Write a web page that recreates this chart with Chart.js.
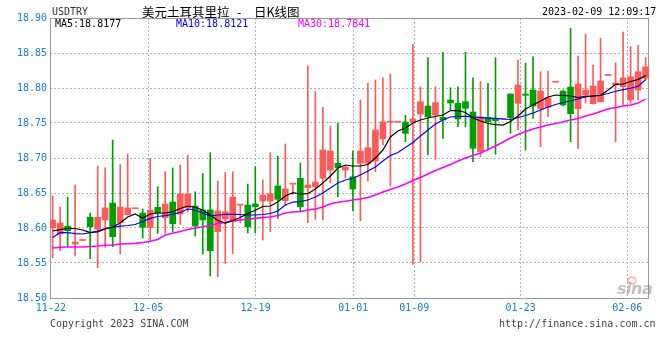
<!DOCTYPE html>
<html><head><meta charset="utf-8">
<script src="https://cdn.jsdelivr.net/npm/chart.js@4.4.1/dist/chart.umd.min.js"></script>
<style>
html,body{margin:0;padding:0;background:#fff;}
#wrap{position:relative;width:660px;height:360px;overflow:hidden;background:#fff;}
#c{position:absolute;left:0;top:0;}
.t{position:absolute;white-space:nowrap;font-family:"DejaVu Sans Mono",monospace;font-size:10px;line-height:12px;}
.cjk{position:absolute;white-space:nowrap;font-family:"Noto Sans CJK SC",sans-serif;font-size:12.5px;line-height:16px;color:#000;}
</style></head><body>
<div id="wrap">
<canvas id="c" width="660" height="360"></canvas>
<div class="t" style="left:52px;top:6px;color:#333">USDTRY</div>
<div class="cjk" style="left:142px;top:4px">美元土耳其里拉</div>
<div class="cjk" style="left:237px;top:4px">-</div>
<div class="cjk" style="left:254px;top:4px">日K线图</div>
<div class="t" style="left:542px;top:6px;color:#000">2023-02-09 12:09:17</div>
<div class="t" id="l5" style="left:55px;top:18px;color:#000"></div>
<div class="t" id="l10" style="left:176px;top:18px;color:#0000ff"></div>
<div class="t" id="l30" style="left:298px;top:18px;color:#ff00ff"></div>
<div class="t" style="left:50px;top:318px;color:#444">Copyright 2023 SINA.COM</div>
<div class="t" style="left:499px;top:318px;color:#444">http://finance.sina.com.cn</div>
<div style="position:absolute;left:627px;top:276px;width:6px;height:5px;border:2px solid rgba(240,120,120,0.45);border-radius:50%;"></div>
<div style="position:absolute;left:617px;top:280px;font-family:'DejaVu Sans',sans-serif;font-style:italic;font-weight:bold;font-size:16px;line-height:17px;letter-spacing:-0.5px;color:rgba(140,140,140,0.55);">sina</div>
</div>
<script>
const dateLabels = ['11-22','12-05','12-19','01-01','01-09','01-23','02-06'];
const dateTickPos = [-0.23, 12.74, 27.04, 40.05, 48.17, 62.35, 76.55];

const opens = [18.6004,18.5918,18.6028,18.5771,18.5822,18.6153,18.5981,18.6114,18.6357,18.6076,
18.6190,18.6276,18.6214,18.6004,18.6296,18.6147,18.6371,18.6200,18.6286,18.6314,
18.6257,18.6257,18.5947,18.6128,18.6090,18.6326,18.6328,18.6343,18.6386,18.6386,
18.6600,18.6390,18.6626,18.6710,18.6576,18.6590,18.6710,18.6828,18.6924,18.6828,
18.6733,18.6924,18.6924,18.6957,18.7276,18.7512,18.7512,18.7514,18.7518,18.7628,
18.7743,18.7614,18.7581,18.7828,18.7781,18.7804,18.7657,18.7090,18.7581,18.7567,
18.7554,18.7914,18.7781,18.7914,18.7971,18.7704,18.7724,18.8083,18.7957,18.8014,
18.7704,18.7900,18.7776,18.7804,18.8179,18.8043,18.8018,18.7828,18.7971,18.8138];
const highs = [18.6457,18.6300,18.6443,18.6614,18.5830,18.6214,18.6886,18.6861,18.7257,18.6904,
18.7057,18.6283,18.6271,18.6993,18.6590,18.6804,18.6857,18.6900,18.7043,18.6518,
18.6778,18.7076,18.6671,18.6793,18.6804,18.6330,18.6628,18.6876,18.6686,18.7076,
18.7028,18.7200,18.6630,18.6928,18.8314,18.7947,18.7724,18.7457,18.7496,18.6886,
18.7100,18.7828,18.8067,18.8114,18.8147,18.8200,18.7517,18.7610,18.8624,18.8018,
18.8433,18.8018,18.8510,18.8004,18.8018,18.8510,18.8147,18.8090,18.8067,18.8433,
18.7559,18.7916,18.8400,18.8353,18.8447,18.8233,18.8243,18.8087,18.7971,18.8853,
18.8457,18.8771,18.8328,18.8710,18.8183,18.8361,18.8800,18.8590,18.8614,18.8433];
const lows = [18.5576,18.5676,18.5733,18.5600,18.5820,18.5561,18.5433,18.5724,18.5733,18.5633,
18.6186,18.6274,18.5857,18.5800,18.5924,18.5924,18.5943,18.6050,18.6228,18.5886,
18.5628,18.5314,18.5304,18.5493,18.5636,18.6076,18.5928,18.5928,18.5828,18.5947,
18.6138,18.6328,18.6481,18.6228,18.6076,18.6124,18.6114,18.6643,18.6447,18.6714,
18.6247,18.6104,18.6671,18.6804,18.7186,18.6600,18.7511,18.7233,18.5481,18.5518,
18.7043,18.6981,18.7281,18.7686,18.7447,18.7447,18.6947,18.7018,18.7114,18.7053,
18.7553,18.7353,18.7400,18.7114,18.7567,18.7161,18.7590,18.8082,18.7743,18.7233,
18.7138,18.7786,18.7771,18.7800,18.8178,18.7233,18.7757,18.7781,18.7828,18.8114];
const closes = [18.6114,18.6071,18.5961,18.5800,18.5828,18.6018,18.6153,18.6286,18.5876,18.6300,
18.6286,18.6281,18.6010,18.6257,18.6214,18.6343,18.6061,18.6486,18.6486,18.6028,
18.6114,18.5676,18.6243,18.6233,18.6443,18.6330,18.6018,18.6304,18.6471,18.6490,
18.6410,18.6557,18.6630,18.6304,18.6614,18.6657,18.7114,18.7100,18.6864,18.6871,
18.6557,18.7100,18.7147,18.7400,18.7514,18.7516,18.7516,18.7353,18.7557,18.7804,
18.7590,18.7790,18.7543,18.7786,18.7557,18.7710,18.7138,18.7590,18.7518,18.7533,
18.7557,18.7576,18.8043,18.7896,18.7743,18.7957,18.7861,18.8086,18.7757,18.7633,
18.8057,18.7971,18.8028,18.8100,18.8182,18.8071,18.8143,18.8161,18.8233,18.8304];

const ma5 = [18.5957,18.5978,18.5993,18.5993,18.5971,18.5933,18.5943,18.5986,18.6014,18.6071,
18.6157,18.6200,18.6143,18.6200,18.6214,18.6214,18.6233,18.6278,18.6314,18.6296,
18.6257,18.6186,18.6107,18.6071,18.6107,18.6150,18.6207,18.6253,18.6307,18.6314,
18.6371,18.6457,18.6504,18.6486,18.6490,18.6557,18.6643,18.6743,18.6857,18.6900,
18.6886,18.6886,18.6907,18.7000,18.7114,18.7300,18.7386,18.7428,18.7500,18.7543,
18.7571,18.7593,18.7614,18.7678,18.7678,18.7650,18.7571,18.7528,18.7493,18.7478,
18.7471,18.7521,18.7600,18.7700,18.7757,18.7814,18.7871,18.7900,18.7893,18.7886,
18.7864,18.7879,18.7886,18.7893,18.7971,18.8053,18.8057,18.8093,18.8121,18.8177];
const ma10 = [18.5864,18.5933,18.5933,18.5921,18.5914,18.5933,18.5957,18.5993,18.6010,18.6028,
18.6036,18.6050,18.6093,18.6138,18.6164,18.6178,18.6196,18.6221,18.6271,18.6257,
18.6214,18.6171,18.6186,18.6196,18.6196,18.6193,18.6186,18.6186,18.6193,18.6207,
18.6243,18.6328,18.6371,18.6376,18.6400,18.6443,18.6500,18.6571,18.6643,18.6686,
18.6710,18.6757,18.6814,18.6871,18.6957,18.7036,18.7078,18.7150,18.7221,18.7314,
18.7400,18.7486,18.7543,18.7586,18.7596,18.7596,18.7586,18.7578,18.7571,18.7567,
18.7557,18.7550,18.7578,18.7607,18.7643,18.7686,18.7728,18.7764,18.7793,18.7818,
18.7843,18.7871,18.7886,18.7896,18.7921,18.7954,18.7976,18.7996,18.8024,18.8121];
const ma30 = [18.5714,18.5724,18.5728,18.5728,18.5728,18.5736,18.5743,18.5753,18.5757,18.5771,
18.5776,18.5781,18.5793,18.5810,18.5836,18.5900,18.5924,18.5950,18.5978,18.6000,
18.6018,18.6036,18.6064,18.6078,18.6100,18.6114,18.6124,18.6138,18.6150,18.6157,
18.6178,18.6214,18.6228,18.6236,18.6257,18.6271,18.6300,18.6343,18.6367,18.6381,
18.6400,18.6414,18.6436,18.6471,18.6514,18.6550,18.6586,18.6628,18.6678,18.6721,
18.6771,18.6821,18.6864,18.6907,18.6957,18.7000,18.7036,18.7071,18.7121,18.7171,
18.7228,18.7286,18.7336,18.7378,18.7414,18.7443,18.7471,18.7493,18.7518,18.7543,
18.7564,18.7600,18.7628,18.7664,18.7700,18.7721,18.7743,18.7757,18.7786,18.7841];

document.getElementById('l5').textContent = 'MA5:' + ma5[ma5.length-1].toFixed(4);
document.getElementById('l10').textContent = 'MA10:' + ma10[ma10.length-1].toFixed(4);
document.getElementById('l30').textContent = 'MA30:' + ma30[ma30.length-1].toFixed(4);

const UP = '#ff5a5a', DOWN = '#00a000';
const colors = opens.map((o,i) => closes[i] >= o ? UP : DOWN);
const bodies = opens.map((o,i) => ({x:i, y:[o, closes[i]]}));
const wicks = lows.map((l,i) => ({x:i, y:[l, highs[i]]}));
const pts = arr => arr.map((v,i) => ({x:i, y:v}));

const MONO = '"DejaVu Sans Mono", monospace';
const AXIS_BLUE = '#1182d0';

const frame = {
  id:'frame',
  beforeDatasetsDraw(chart){
    const {ctx, chartArea:a} = chart;
    ctx.save();
    ctx.strokeStyle = '#9a9a9a';
    ctx.lineWidth = 1;
    ctx.setLineDash([]);
    ctx.strokeRect(Math.round(a.left)+0.5, Math.round(a.top)+0.5, Math.round(a.right-a.left)-1, Math.round(a.bottom-a.top));
    ctx.restore();
  }
};

new Chart(document.getElementById('c'), {
  type:'bar',
  data:{datasets:[
    {type:'line', data:pts(ma5), borderColor:'#000000', borderWidth:1.2, pointRadius:0, tension:0},
    {type:'line', data:pts(ma10), borderColor:'#0000ff', borderWidth:1.2, pointRadius:0, tension:0},
    {type:'line', data:pts(ma30), borderColor:'#ff00ff', borderWidth:1.6, pointRadius:0, tension:0},
    {type:'bar', data:bodies, backgroundColor:colors, borderWidth:0, grouped:false,
      barPercentage:1, categoryPercentage:1, maxBarThickness:6, minBarLength:1},
    {type:'bar', data:wicks, backgroundColor:colors, borderWidth:0, grouped:false,
      barPercentage:1, categoryPercentage:1, maxBarThickness:1}
  ]},
  options:{
    responsive:false, animation:false, devicePixelRatio:1,
    layout:{padding:{left:0, right:11, top:18, bottom:0}},
    plugins:{legend:{display:false}, tooltip:{enabled:false}},
    scales:{
      x:{type:'linear', min:-0.35, max:79.45, offset:false,
        afterBuildTicks: s => { s.ticks = dateTickPos.map(v => ({value:v})); },
        afterFit: s => { s.height = 62; },
        ticks:{autoSkip:false, maxRotation:0, padding:4, color:AXIS_BLUE,
          font:{family:MONO, size:10}, callback:(v,idx) => dateLabels[idx]},
        grid:{offset:false, color:'#b0b0b0', lineWidth:1, drawTicks:false, tickLength:0},
        border:{display:false, dash:[2,2]}
      },
      y:{min:18.5, max:18.9,
        afterFit: s => { s.width = 50; },
        ticks:{stepSize:0.05, padding:3, color:AXIS_BLUE, font:{family:MONO, size:10},
          callback:v => Number(v).toFixed(2)},
        grid:{color:'#b0b0b0', lineWidth:1, drawTicks:false, tickLength:0},
        border:{display:false, dash:[2,2]}
      }
    }
  },
  plugins:[frame]
});
</script>
</body></html>
